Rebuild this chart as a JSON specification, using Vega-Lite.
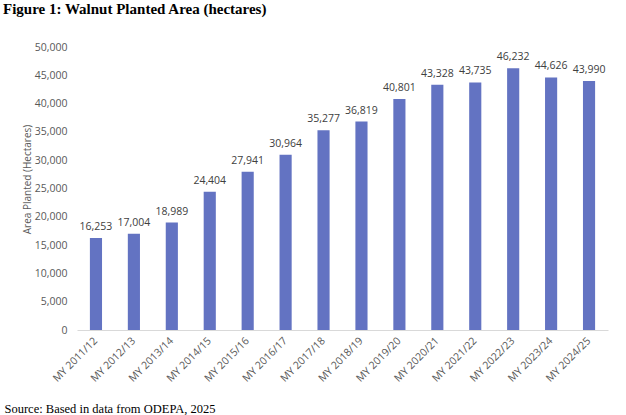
{
  "$schema": "https://vega.github.io/schema/vega-lite/v6.json",
  "autosize": "none",
  "width": 531,
  "height": 283,
  "padding": {"left": 77, "top": 47, "right": 18, "bottom": 85},
  "background": "white",
  "title": {
    "text": "Figure 1: Walnut Planted Area (hectares)",
    "font": "Liberation Serif",
    "fontSize": 15,
    "fontWeight": "bold",
    "color": "black",
    "anchor": "start",
    "frame": "group",
    "dx": -74,
    "baseline": "alphabetic",
    "offset": 13
  },
  "data": {
    "values": [
      {"year": "MY 2011/12", "area": 16253},
      {"year": "MY 2012/13", "area": 17004},
      {"year": "MY 2013/14", "area": 18989},
      {"year": "MY 2014/15", "area": 24404},
      {"year": "MY 2015/16", "area": 27941},
      {"year": "MY 2016/17", "area": 30964},
      {"year": "MY 2017/18", "area": 35277},
      {"year": "MY 2018/19", "area": 36819},
      {"year": "MY 2019/20", "area": 40801},
      {"year": "MY 2020/21", "area": 43328},
      {"year": "MY 2021/22", "area": 43735},
      {"year": "MY 2022/23", "area": 46232},
      {"year": "MY 2023/24", "area": 44626},
      {"year": "MY 2024/25", "area": 43990}
    ]
  },
  "encoding": {
    "x": {
      "field": "year",
      "type": "nominal",
      "sort": null,
      "scale": {"paddingInner": 0.68, "paddingOuter": 0.34},
      "axis": {
        "title": "Source: Based in data from ODEPA, 2025",
        "titleFont": "Liberation Serif",
        "titleFontSize": 12.5,
        "titleFontWeight": "normal",
        "titleColor": "black",
        "titleX": -73,
        "titleY": 78,
        "titleAlign": "left",
        "titleBaseline": "middle",
        "titleAnchor": "start",
        "labelAngle": -45,
        "labelAlign": "right",
        "labelBaseline": "middle",
        "labelPadding": 9,
        "labelFont": "Open Sans",
        "labelFontSize": 10.5,
        "labelColor": "#595959",
        "ticks": false,
        "domainColor": "#d9d9d9",
        "domainWidth": 1,
        "grid": false
      }
    },
    "y": {
      "field": "area",
      "type": "quantitative",
      "scale": {"domain": [0, 50000]},
      "axis": {
        "title": "Area Planted (Hectares)",
        "titleFont": "Open Sans",
        "titleFontSize": 10,
        "titleFontWeight": "normal",
        "titleColor": "#595959",
        "titleX": -50,
        "titleY": 132,
        "titleAngle": -90,
        "titleAlign": "center",
        "titleBaseline": "middle",
        "values": [0, 5000, 10000, 15000, 20000, 25000, 30000, 35000, 40000, 45000, 50000],
        "format": ",d",
        "labelFont": "Open Sans",
        "labelFontSize": 10.5,
        "labelColor": "#595959",
        "labelPadding": 10,
        "ticks": false,
        "domain": false,
        "grid": false
      }
    }
  },
  "layer": [
    {"mark": {"type": "bar", "color": "#6373c2"}},
    {
      "mark": {"type": "text", "baseline": "alphabetic", "dy": -8, "font": "Open Sans", "fontSize": 10.5, "color": "#404040"},
      "encoding": {"text": {"field": "area", "type": "quantitative", "format": ",d"}}
    }
  ],
  "config": {"view": {"stroke": null}}
}
